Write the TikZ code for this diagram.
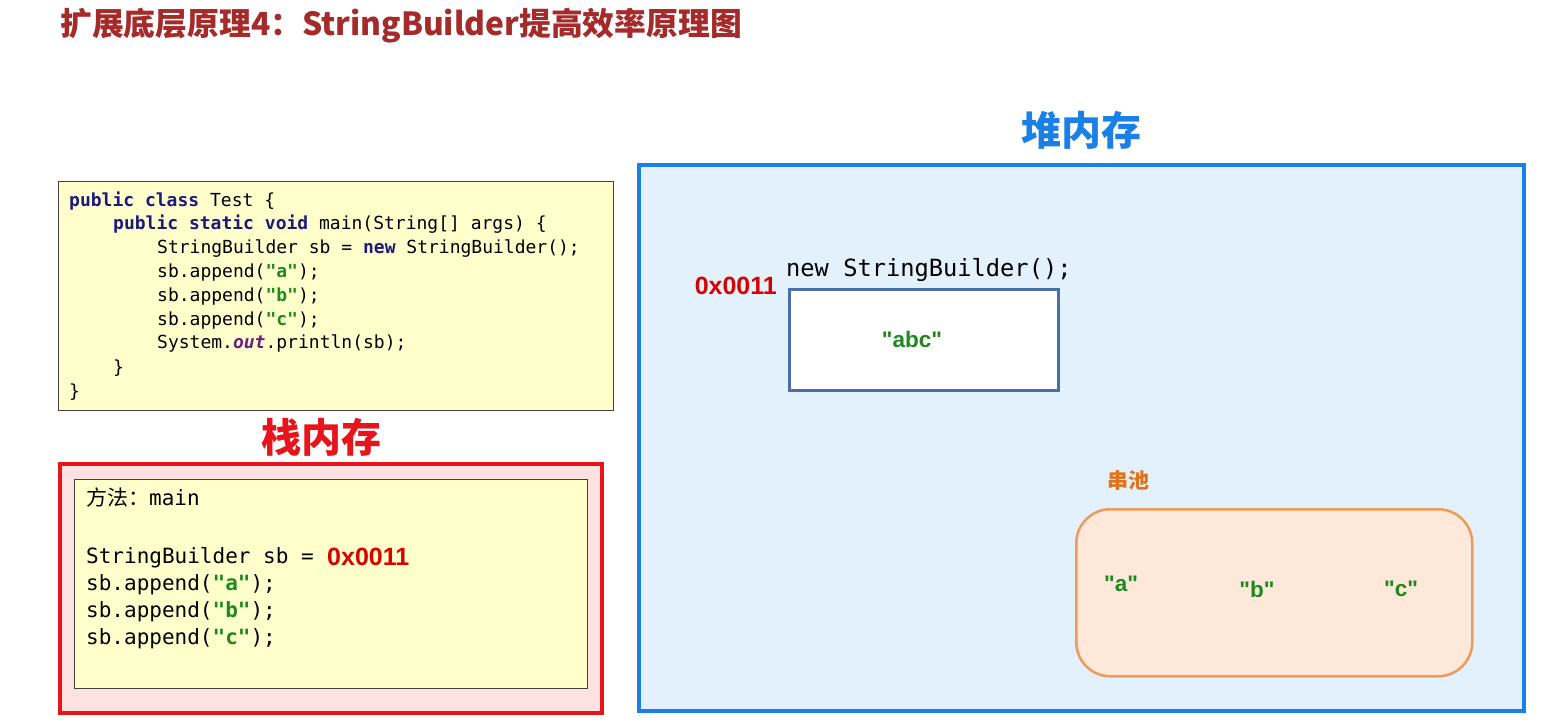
\documentclass[tikz,border=0pt]{standalone}
\usepackage{fontspec}
\setmainfont{Liberation Sans}
\setmonofont{DejaVu Sans Mono}
\newfontfamily\cjk{Noto Sans CJK SC}
\newfontfamily\qsans{Liberation Sans}[Ligatures=TeXOff]
\definecolor{titlered}{HTML}{A52A2A}
\definecolor{codebg}{HTML}{FFFFCC}
\definecolor{codeline}{HTML}{404040}
\definecolor{kwc}{HTML}{1A1A80}
\definecolor{strc}{HTML}{1E8A1E}
\definecolor{outc}{HTML}{6E1E7E}
\definecolor{stackred}{HTML}{E8141C}
\definecolor{stackbg}{HTML}{FDE2E2}
\definecolor{heapblue}{HTML}{1A80E6}
\definecolor{heapbg}{HTML}{E3F1FC}
\definecolor{objline}{HTML}{4A6FA8}
\definecolor{addrred}{HTML}{D90000}
\definecolor{poolline}{HTML}{EE9A5A}
\definecolor{poolbg}{HTML}{FDE8DA}
\definecolor{pooltxt}{HTML}{E0741E}
\newcommand{\kwd}[1]{\textcolor{kwc}{\textbf{#1}}}
\newcommand{\strl}[1]{\textcolor{strc}{\textbf{"#1"}}}
\tikzset{
  codetxt/.style={anchor=base west, inner sep=0, font=\fontsize{18}{20}\selectfont\ttfamily},
  stacktxt/.style={anchor=base west, inner sep=0, font=\fontsize{21}{23}\selectfont\ttfamily},
  bigcjk/.style={inner sep=0, font=\fontsize{40}{44}\selectfont\cjk\bfseries},
  addr/.style={inner sep=0, text=addrred, font=\fontsize{25}{27}\selectfont\bfseries},
  poolstr/.style={inner sep=0, text=strc, font=\fontsize{22.5}{24}\selectfont\qsans\bfseries},
}
\begin{document}
\begin{tikzpicture}[x=1pt,y=-1pt]
\useasboundingbox (0,0) rectangle (1544,721);
\fill[white] (0,0) rectangle (1544,721);
% title
\node[anchor=west, inner sep=0, text=titlered, font=\fontsize{31.8}{34}\selectfont\cjk\bfseries] (title) at (60,26) {扩展底层原理4：StringBuilder提高效率原理图};
% code box
\node[draw=codeline, line width=1.5pt, fill=codebg, minimum width=555pt, minimum height=229pt, anchor=north west, inner sep=0] (code) at (57.5,180.5) {};
\node[codetxt] (c1) at (69,206) {\kwd{public} \kwd{class} Test \{};
\node[codetxt] (c2) at (113,229) {\kwd{public} \kwd{static} \kwd{void} main(String[] args) \{};
\node[codetxt] (c3) at (157,253) {StringBuilder sb = \kwd{new} StringBuilder();};
\node[codetxt] (c4) at (157,277) {sb.append(\strl{a});};
\node[codetxt] (c5) at (157,301) {sb.append(\strl{b});};
\node[codetxt] (c6) at (157,325) {sb.append(\strl{c});};
\node[codetxt] (c7) at (157,348) {System.\textcolor{outc}{\textbf{\textit{out}}}.println(sb);};
\node[codetxt] (c8) at (113,373) {\}};
\node[codetxt] (c9) at (69,397) {\}};
% stack
\node[bigcjk, text=stackred] (stacklbl) at (321,437) {栈内存};
\node[draw=stackred, line width=4pt, fill=stackbg, minimum width=542pt, minimum height=249pt, anchor=north west, inner sep=0] (stack) at (58,462) {};
\node[draw=codeline, line width=1.5pt, fill=codebg, minimum width=513pt, minimum height=209pt, anchor=north west, inner sep=0] (frame) at (73.5,478.5) {};
\node[stacktxt] (s1) at (86,505) {{\cjk 方法：}main};
\node[stacktxt] (s2) at (86,563) {StringBuilder sb = };
\node[addr, anchor=base west] (s2a) at (327,565) {0x0011};
\node[stacktxt] (s3) at (86,590) {sb.append(\strl{a});};
\node[stacktxt] (s4) at (86,617) {sb.append(\strl{b});};
\node[stacktxt] (s5) at (86,644) {sb.append(\strl{c});};
% heap
\node[bigcjk, text=heapblue] (heaplbl) at (1081,130) {堆内存};
\node[draw=heapblue, line width=4pt, fill=heapbg, minimum width=885pt, minimum height=546pt, anchor=north west, inner sep=0] (heap) at (637,163) {};
\node[anchor=base west, inner sep=0, font=\fontsize{23.7}{25}\selectfont\ttfamily] (newsb) at (786,276) {new StringBuilder();};
\node[addr, anchor=base east] (haddr) at (777,294) {0x0011};
\node[draw=objline, line width=2.5pt, fill=white, minimum width=269pt, minimum height=101pt, anchor=north west, inner sep=0] (obj) at (788,288) {};
\node[poolstr] (abc) at (912,339) {"abc"};
% pool
\node[anchor=west, inner sep=0, text=pooltxt, font=\fontsize{21}{23}\selectfont\cjk\bfseries] (poollbl) at (1107,481) {串池};
\node[draw=poolline, line width=2.5pt, fill=poolbg, rounded corners=34pt, minimum width=396pt, minimum height=167pt, anchor=north west, inner sep=0] (pool) at (1075,508) {};
\node[poolstr] (pa) at (1121,584) {"a"};
\node[poolstr] (pb) at (1257,589) {"b"};
\node[poolstr] (pc) at (1401,589) {"c"};
\end{tikzpicture}
\end{document}
